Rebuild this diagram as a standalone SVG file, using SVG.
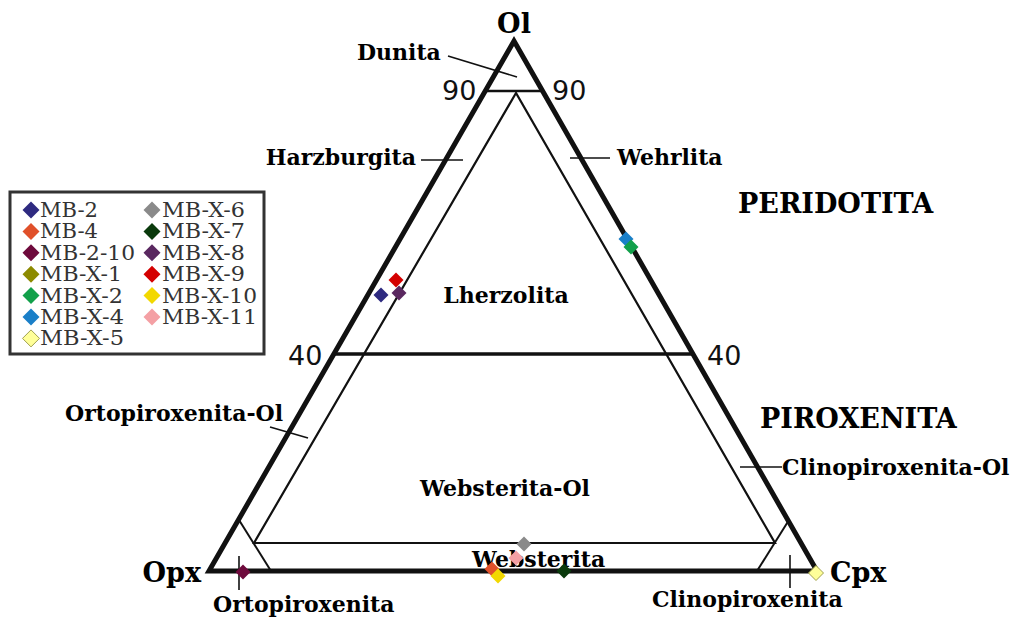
<svg xmlns="http://www.w3.org/2000/svg" width="1021" height="618" viewBox="0 0 1021 618">
<defs>
<style>
.lbl{font-family:"DejaVu Serif","Liberation Serif",serif;font-weight:bold;font-size:22px;fill:#000}
.big{font-size:27px}
.num{font-family:"DejaVu Sans","Liberation Sans",sans-serif;font-size:27px;fill:#111}
.leg{font-family:"DejaVu Serif","Liberation Serif",serif;font-size:19.5px;fill:#333}
.ln{stroke:#111;fill:none;stroke-linecap:butt}
</style>
<path id="dm" d="M0,-7.5 L7.5,0 L0,7.5 L-7.5,0 Z"/>
<path id="dl" d="M0,-8.5 L8.5,0 L0,8.5 L-8.5,0 Z"/>
</defs>
<rect width="1021" height="618" fill="#fff"/>

<g id="frame">
<polygon class="ln" points="514,41 817,571 209,571" stroke-width="5" stroke-linejoin="miter"/>
<line class="ln" x1="485" y1="91" x2="543" y2="91" stroke-width="2.5"/>
<line class="ln" x1="334" y1="354" x2="694" y2="354" stroke-width="3.5"/>
<polygon class="ln" points="516,93 254,543 775,543" stroke-width="2.2"/>
<line class="ln" x1="239" y1="520" x2="271" y2="571" stroke-width="2"/>
<line class="ln" x1="757" y1="571" x2="789" y2="520" stroke-width="2"/>
</g>

<g id="connectors" class="ln" stroke-width="1.6">
<line x1="448" y1="56" x2="517" y2="77"/>
<line x1="421" y1="160" x2="463" y2="160"/>
<line x1="570" y1="158" x2="610" y2="158"/>
<line x1="270" y1="427" x2="308" y2="438"/>
<line x1="740" y1="467" x2="782" y2="467"/>
<line x1="239" y1="556" x2="239" y2="590"/>
<line x1="790" y1="555" x2="790" y2="588"/>
</g>

<g id="labels">
<text id="ol" class="lbl big" x="514" y="33" text-anchor="middle">Ol</text>
<text id="opx" class="lbl big" x="201" y="582" text-anchor="end">Opx</text>
<text id="cpx" class="lbl big" x="830" y="582">Cpx</text>
<text id="dunita" class="lbl" x="357" y="60">Dunita</text>
<text id="harzburgita" class="lbl" x="416" y="165" text-anchor="end">Harzburgita</text>
<text id="wehrlita" class="lbl" x="617" y="165">Wehrlita</text>
<text id="peridotita" class="lbl big" x="738" y="213">PERIDOTITA</text>
<text id="lherzolita" class="lbl" x="506" y="303" text-anchor="middle">Lherzolita</text>
<text id="piroxenita" class="lbl big" x="760" y="428">PIROXENITA</text>
<text id="ortopiroxenita-ol" class="lbl" x="65" y="421">Ortopiroxenita-Ol</text>
<text id="clinopiroxenita-ol" class="lbl" x="782" y="475">Clinopiroxenita-Ol</text>
<text id="websterita-ol" class="lbl" x="505" y="496" text-anchor="middle">Websterita-Ol</text>
<text id="websterita" class="lbl" x="472" y="567">Websterita</text>
<text id="ortopiroxenita" class="lbl" x="213" y="612">Ortopiroxenita</text>
<text id="clinopiroxenita" class="lbl" x="652" y="607">Clinopiroxenita</text>
<text class="num" x="442" y="100">90</text>
<text class="num" x="552" y="100">90</text>
<text class="num" x="288" y="365">40</text>
<text class="num" x="707" y="365">40</text>
</g>

<g id="points">
<use href="#dm" x="381" y="295" fill="#2e2a80"/>
<use href="#dm" x="396" y="280" fill="#d40000"/>
<use href="#dm" x="399" y="293" fill="#5a2860"/>
<use href="#dm" x="626" y="239" fill="#1a7fc8"/>
<use href="#dm" x="631" y="247" fill="#12a04a"/>
<use href="#dm" x="243" y="572" fill="#6e0a3c"/>
<use href="#dm" x="816" y="573" fill="#ffff99" stroke="#a0a050" stroke-width="1"/>
<use href="#dm" x="524" y="544" fill="#8a8a8a"/>
<use href="#dm" x="516" y="558" fill="#f4a0a4"/>
<use href="#dm" x="492" y="569" fill="#e0502a"/>
<use href="#dm" x="498" y="576" fill="#f2d800"/>
<use href="#dm" x="564" y="571" fill="#0a3a0c"/>
</g>

<g id="legend">
<rect x="10" y="192" width="254" height="162" fill="#fff" stroke="#333" stroke-width="3"/>
<use href="#dl" x="31" y="210" fill="#2e2a80"/>
<text class="leg" x="40" y="217" textLength="58" lengthAdjust="spacingAndGlyphs">MB-2</text>
<use href="#dl" x="31" y="231.4" fill="#e0502a"/>
<text class="leg" x="40" y="238.4" textLength="58" lengthAdjust="spacingAndGlyphs">MB-4</text>
<use href="#dl" x="31" y="252.8" fill="#6e0a3c"/>
<text class="leg" x="40" y="259.8" textLength="95" lengthAdjust="spacingAndGlyphs">MB-2-10</text>
<use href="#dl" x="31" y="274.2" fill="#8c8a00"/>
<text class="leg" x="40" y="281.2" textLength="82" lengthAdjust="spacingAndGlyphs">MB-X-1</text>
<use href="#dl" x="31" y="295.6" fill="#12a04a"/>
<text class="leg" x="40" y="302.6" textLength="83" lengthAdjust="spacingAndGlyphs">MB-X-2</text>
<use href="#dl" x="31" y="317" fill="#1a7fc8"/>
<text class="leg" x="40" y="324" textLength="84" lengthAdjust="spacingAndGlyphs">MB-X-4</text>
<use href="#dl" x="31" y="338.4" fill="#ffff99" stroke="#a0a050" stroke-width="1"/>
<text class="leg" x="40" y="345.4" textLength="84" lengthAdjust="spacingAndGlyphs">MB-X-5</text>
<use href="#dl" x="152" y="210" fill="#8a8a8a"/>
<text class="leg" x="162" y="217" textLength="83" lengthAdjust="spacingAndGlyphs">MB-X-6</text>
<use href="#dl" x="152" y="231.4" fill="#0a3a0c"/>
<text class="leg" x="162" y="238.4" textLength="83" lengthAdjust="spacingAndGlyphs">MB-X-7</text>
<use href="#dl" x="152" y="252.8" fill="#5a2860"/>
<text class="leg" x="162" y="259.8" textLength="83" lengthAdjust="spacingAndGlyphs">MB-X-8</text>
<use href="#dl" x="152" y="274.2" fill="#d40000"/>
<text class="leg" x="162" y="281.2" textLength="83" lengthAdjust="spacingAndGlyphs">MB-X-9</text>
<use href="#dl" x="152" y="295.6" fill="#f2d800"/>
<text class="leg" x="162" y="302.6" textLength="95" lengthAdjust="spacingAndGlyphs">MB-X-10</text>
<use href="#dl" x="152" y="317" fill="#f4a0a4"/>
<text class="leg" x="162" y="324" textLength="95" lengthAdjust="spacingAndGlyphs">MB-X-11</text>
</g>
</svg>
